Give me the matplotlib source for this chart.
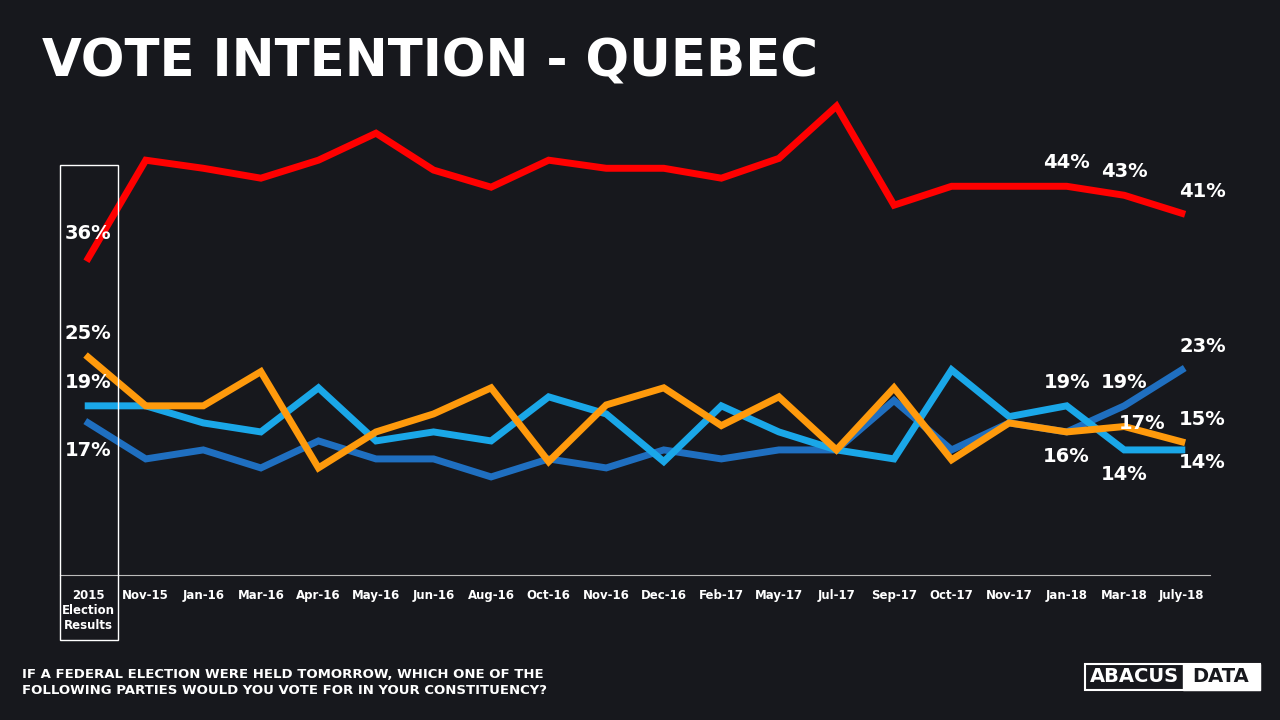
import matplotlib
matplotlib.use("Agg")
import matplotlib.pyplot as plt
from matplotlib.patches import Rectangle

cats = ["2015\nElection\nResults","Nov-15","Jan-16","Mar-16","Apr-16","May-16","Jun-16","Aug-16","Oct-16","Nov-16",
        "Dec-16","Feb-17","May-17","Jul-17","Sep-17","Oct-17","Nov-17","Jan-18","Mar-18","July-18"]
lpc = [36,46.9,46,44.9,46.9,49.9,45.8,43.9,46.9,46,46,44.9,47.1,52.9,41.9,44,44,44,43,41]
ndp = [25,19.6,19.6,23.4,12.7,16.7,18.7,21.6,13.4,19.7,21.6,17.4,20.6,14.7,21.6,13.6,17.7,16.7,17.3,15.6]
bq  = [19.6,19.6,17.7,16.7,21.6,15.7,16.7,15.7,20.6,18.7,13.4,19.6,16.7,14.7,13.7,23.6,18.4,19.6,14.7,14.7]
cpc = [17.7,13.7,14.7,12.7,15.7,13.7,13.7,11.7,13.7,12.7,14.7,13.7,14.7,14.7,20.2,14.7,17.7,16.7,19.6,23.6]

W,H = 1280,720
fig = plt.figure(figsize=(12.8,7.2), dpi=100)
fig.patch.set_facecolor("#17181d")
ax = fig.add_axes([60/W, 1-575/H, 1150/W, 485/H])
ax.set_facecolor("none")
x = list(range(len(cats)))
for ys,c in [(cpc,"#1f6fc0"),(bq,"#1aa7e8"),(ndp,"#ff9a0c"),(lpc,"#ff0000")]:
    ax.plot(x, ys, color=c, lw=5, solid_joinstyle="miter")
ax.set_xlim(-0.49,19.49); ax.set_ylim(0.8,54.7)
ax.set_yticks([])
ax.set_xticks(x); ax.set_xticklabels(cats, color="white", fontsize=8.5, fontweight="bold")
ax.tick_params(axis="x", length=0, pad=10)
for s in ["top","right","left"]: ax.spines[s].set_visible(False)
ax.spines["bottom"].set_color("#bbbbbb")

def lab(i, v, t, dx, dy):
    ax.annotate(t, (i, v), xytext=(dx, dy), textcoords="offset points", ha="center", va="center",
                color="white", fontsize=14, fontweight="bold")
lab(0,lpc[0],"36%",0,18); lab(17,lpc[17],"44%",0,17); lab(18,lpc[18],"43%",0,17); lab(19,lpc[19],"41%",15,16)
lab(0,ndp[0],"25%",0,17); lab(0,bq[0],"19%",0,17); lab(0,cpc[0],"17%",0,-20)
lab(17,bq[17],"19%",0,17); lab(18,cpc[18],"19%",0,17); lab(19,cpc[19],"23%",15,17)
lab(17,ndp[17],"16%",0,-18); lab(18,ndp[18],"17%",13,2); lab(18,bq[18],"14%",0,-18)
lab(19,ndp[19],"15%",15,16); lab(19,bq[19],"14%",15,-9)

fig.patches.append(Rectangle((60/W,1-640/H),58/W,475/H, transform=fig.transFigure,
                             fill=False, ec="white", lw=1))
fig.text(42/W,1-62/H,"VOTE INTENTION - QUEBEC", color="white", fontsize=37, fontweight="bold", va="center")
fig.text(22/W,1-683/H,"IF A FEDERAL ELECTION WERE HELD TOMORROW, WHICH ONE OF THE\nFOLLOWING PARTIES WOULD YOU VOTE FOR IN YOUR CONSTITUENCY?",
         color="white", fontsize=9.5, fontweight="bold", va="center", linespacing=1.3)
fig.patches.append(Rectangle((1085/W,1-690/H),175/W,26/H, transform=fig.transFigure, fill=False, ec="white", lw=1.5))
fig.patches.append(Rectangle((1183/W,1-690/H),77/W,26/H, transform=fig.transFigure, fc="white", ec="white"))
fig.text(1134/W,1-677/H,"ABACUS", color="white", fontsize=14, fontweight="bold", ha="center", va="center")
fig.text(1221/W,1-677/H,"DATA", color="#17181d", fontsize=14, fontweight="bold", ha="center", va="center")
fig.savefig("out.png", dpi=100, facecolor=fig.get_facecolor())
